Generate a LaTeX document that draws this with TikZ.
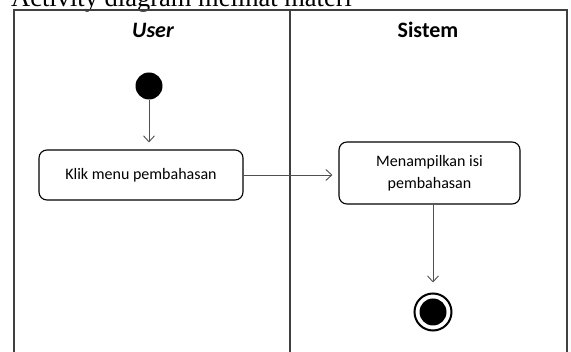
\documentclass[tikz,border=0pt]{standalone}
\usepackage{fontspec}
\setmainfont{Carlito}
\newfontfamily\titlefont{Liberation Serif}
\usetikzlibrary{arrows.meta}
\definecolor{lanegray}{HTML}{404040}
\definecolor{flowgray}{HTML}{505050}
\tikzset{
  lane/.style={draw=lanegray, line width=1.4pt},
  header/.style={font=\bfseries\fontsize{22}{26}\selectfont, inner sep=0pt},
  activity/.style={draw=black, line width=1.1pt, rounded corners=8pt, align=center,
    font=\fontsize{16}{22}\selectfont, inner sep=0pt},
  flow/.style={draw=flowgray, line width=0.9pt, -{Straight Barb[length=6pt,width=11pt]}},
}
\begin{document}
\begin{tikzpicture}[x=1pt,y=-1pt]
\useasboundingbox (0,0) rectangle (571,352);
\clip (0,0) rectangle (571,352);
\fill[white] (0,0) rectangle (571,352);
\node[anchor=base west, inner sep=0pt, font=\titlefont\fontsize{26.5}{30}\selectfont] (title) at (11,7) {Activity diagram melihat materi};
\draw[lane] (14,10) rectangle (567,380);
\draw[lane] (290,10) -- (290,380);
\node[header, font=\bfseries\itshape\fontsize{22}{26}\selectfont] (user) at (153,30) {User};
\node[header] (sistem) at (428,30) {Sistem};
\node[circle, fill=black, minimum size=27pt, inner sep=0pt] (start) at (149,86) {};
\node[activity, minimum width=204pt, minimum height=50pt] (b1) at (141,175) {Klik menu pembahasan};
\node[activity, minimum width=181pt, minimum height=62pt] (b2) at (429.5,173) {Menampilkan isi\\pembahasan};
\node[circle, draw=black, line width=2pt, minimum size=37pt, inner sep=0pt] (end) at (433,312) {};
\node[circle, fill=black, minimum size=27pt, inner sep=0pt] (endin) at (end.center) {};
\draw[flow, shorten >=7pt] (start) -- (start |- b1.north);
\draw[flow, shorten >=6pt] (b1.east) -- (b2.west |- b1.east);
\draw[flow, shorten >=10pt] (b2.south -| end) -- (end.north);
\end{tikzpicture}
\end{document}
